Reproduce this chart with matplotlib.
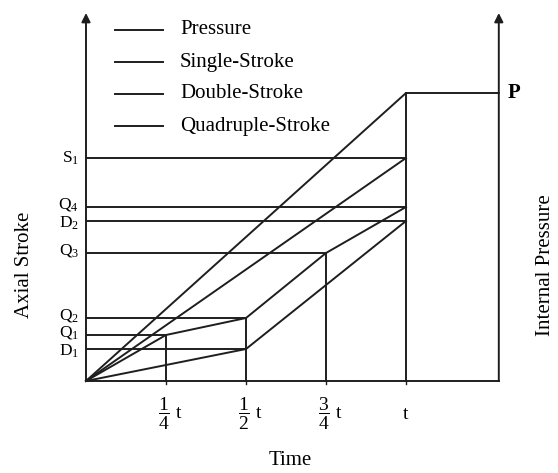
import matplotlib.pyplot as plt
import numpy as np

plt.rcParams['font.family'] = ['Liberation Serif', 'DejaVu Serif']
plt.rcParams['mathtext.fontset'] = 'custom'
plt.rcParams['mathtext.rm'] = 'Liberation Serif'
plt.rcParams['mathtext.it'] = 'Liberation Serif:italic'

# time marks, as fraction of t
time_marks = [0.25, 0.5, 0.75, 1.0]
time_labels = [r'$\dfrac{1}{4}$ t', r'$\dfrac{1}{2}$ t', r'$\dfrac{3}{4}$ t', 't']

# series (time fraction, axial stroke / pressure in arbitrary units)
pressure_t = [0, 1.0, 1.29]
pressure_y = [0, 288, 288]
single_t = [0, 1.0]
single_y = [0, 223]
double_t = [0, 0.5, 1.0]
double_y = [0, 32, 160]
quad_t = [0, 0.25, 0.5, 0.75, 1.0]
quad_y = [0, 46, 63, 128, 174]

single_names = ['S$_1$']
double_names = ['D$_1$', 'D$_2$']
quad_names = ['Q$_1$', 'Q$_2$', 'Q$_3$', 'Q$_4$']

legend_labels = ['Pressure', 'Single-Stroke', 'Double-Stroke', 'Quadruple-Stroke']

col = '#1e1e1e'
lw = 1.4
fs = 15

fig = plt.figure(figsize=(5.58, 4.73), dpi=100)
x_max = 1.3
y_max = 370
ax = fig.add_axes([86 / 558, 92 / 473, x_max * 320 / 558, y_max / 473])
ax.set_xlim(0, x_max)
ax.set_ylim(0, y_max)
ax.axis('off')

# axes
p_axis = pressure_t[-1]
ax.plot([0, p_axis], [0, 0], color=col, lw=lw, clip_on=False)
for xa in [0, p_axis]:
    ax.annotate('', xy=(xa, 368), xytext=(xa, 0),
                arrowprops=dict(arrowstyle='-|>', color=col, lw=lw,
                                mutation_scale=13, shrinkA=0, shrinkB=0),
                annotation_clip=False)

# series lines
for tt, yy in [(pressure_t, pressure_y), (single_t, single_y),
               (double_t, double_y), (quad_t, quad_y)]:
    ax.plot(tt, yy, color=col, lw=lw, clip_on=False)

# horizontal guides to the stroke axis and labels
for tt, yy, names, dy in [(single_t, single_y, single_names, 0),
                          (double_t, double_y, double_names, -1.5),
                          (quad_t, quad_y, quad_names, 1.5)]:
    for x, y, nm in zip(tt[1:], yy[1:], names):
        ax.plot([0, x], [y, y], color=col, lw=lw)
        ax.annotate(nm, xy=(0, y), xytext=(-5, dy), textcoords='offset points',
                    ha='right', va='center', fontsize=12.5)

# vertical guides at each time mark
all_t = pressure_t + single_t + double_t + quad_t
all_y = pressure_y + single_y + double_y + quad_y
for tm, lab in zip(time_marks, time_labels):
    top = max(y for x, y in zip(all_t, all_y) if x == tm)
    ax.plot([tm, tm], [0, top], color=col, lw=lw)
    ax.plot([tm, tm], [0, -3], color=col, lw=1, clip_on=False)
    dx = 3 if lab != 't' else 0
    ax.annotate(lab, xy=(tm, 0), xytext=(dx, -24), textcoords='offset points',
                ha='center', va='center', fontsize=14)

ax.annotate('P', xy=(p_axis, pressure_y[-1]), xytext=(6, 0),
            textcoords='offset points', ha='left', va='center',
            fontsize=fs, fontweight='bold')

# legend
for i, lab in enumerate(legend_labels):
    yy = 1 - (30 + 32 * i) / 473
    fig.add_artist(plt.Line2D([115 / 558, 163 / 558], [yy, yy], color=col, lw=lw))
    fig.text(180 / 558, yy, lab, ha='left', va='center', fontsize=fs)

fig.text(25 / 558, 1 - 265 / 473, 'Axial Stroke', rotation=90,
         ha='center', va='center', fontsize=fs)
fig.text(546 / 558, 1 - 265 / 473, 'Internal Pressure', rotation=90,
         ha='center', va='center', fontsize=fs)
fig.text(290 / 558, 1 - 460 / 473, 'Time', ha='center', va='center', fontsize=fs)

fig.savefig('out.png', dpi=100)
